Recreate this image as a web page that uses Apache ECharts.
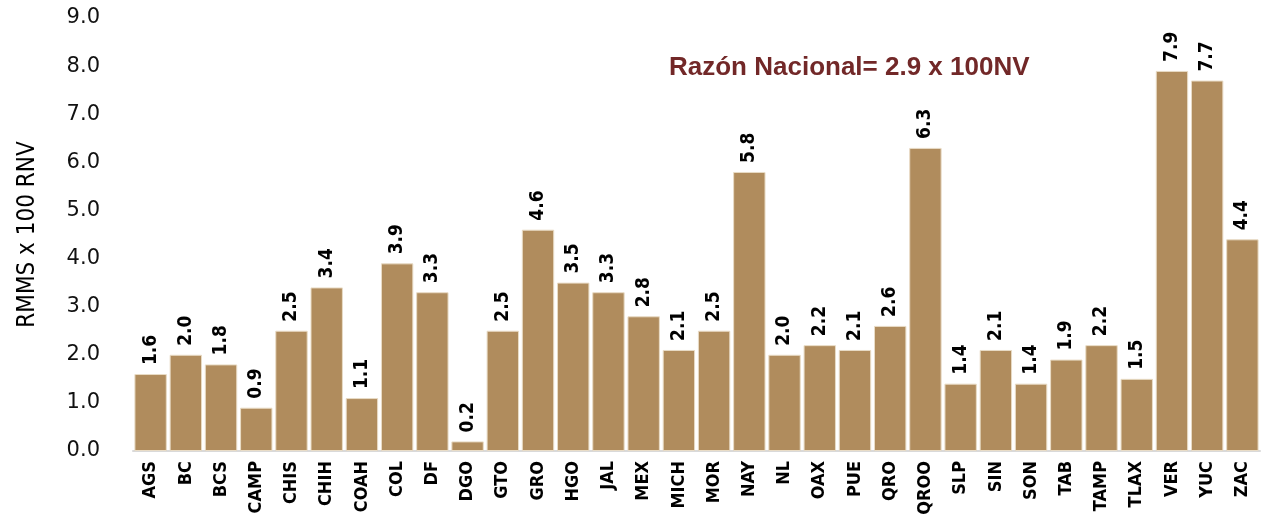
<!DOCTYPE html>
<html><head><meta charset="utf-8">
<script src="https://cdn.jsdelivr.net/npm/echarts@6/dist/echarts.min.js"></script>
<style>html,body{margin:0;padding:0;background:#fff}#c{width:1263px;height:520px}</style>
</head><body><div id="c"></div>
<script>
const categories = ["AGS","BC","BCS","CAMP","CHIS","CHIH","COAH","COL","DF","DGO","GTO","GRO","HGO","JAL","MEX","MICH","MOR","NAY","NL","OAX","PUE","QRO","QROO","SLP","SIN","SON","TAB","TAMP","TLAX","VER","YUC","ZAC"];
const values = [1.6,2.0,1.8,0.9,2.5,3.4,1.1,3.9,3.3,0.2,2.5,4.6,3.5,3.3,2.8,2.1,2.5,5.8,2.0,2.2,2.1,2.6,6.3,1.4,2.1,1.4,1.9,2.2,1.5,7.9,7.7,4.4];
const titleText = "Razón Nacional= 2.9 x 100NV";
const yName = "RMMS x 100 RNV";

const chart = echarts.init(document.getElementById('c'));
chart.setOption({
  animation: false,
  title: {
    text: titleText, left: 664, top: 50,
    textStyle: {fontFamily: 'Liberation Sans', fontWeight: 'bold', fontSize: 26, color: '#722828'}
  },
  grid: {left: 133, right: 3, top: 18, bottom: 69},
  xAxis: {
    type: 'category', data: categories,
    axisLine: {lineStyle: {color: '#D9D9D9', width: 2}},
    axisTick: {show: false},
    axisLabel: {rotate: 90, interval: 0, margin: 10, fontFamily: 'DejaVu Sans Condensed', fontWeight: 'bold', fontSize: 18, color: '#000'}
  },
  yAxis: {
    type: 'value', min: 0, max: 9, interval: 1,
    name: yName, nameLocation: 'middle', nameGap: 93, nameRotate: 90,
    nameTextStyle: {fontFamily: 'DejaVu Sans Condensed', fontSize: 24, color: '#000'},
    axisLine: {show: false}, axisTick: {show: false}, splitLine: {show: false},
    axisLabel: {margin: 33, fontFamily: 'DejaVu Sans', fontSize: 21, color: '#111', formatter: v => v.toFixed(1)}
  },
  series: [{
    type: 'bar', data: values, barCategoryGap: '8%',
    itemStyle: {color: '#B08C5D', borderColor: '#E9DCC6', borderWidth: 1},
    label: {
      show: true, position: 'top', rotate: 90, align: 'left', verticalAlign: 'middle', distance: 9,
      fontFamily: 'DejaVu Sans Condensed', fontWeight: 'bold', fontSize: 19, color: '#000',
      formatter: p => p.value.toFixed(1)
    }
  }]
});
</script></body></html>
